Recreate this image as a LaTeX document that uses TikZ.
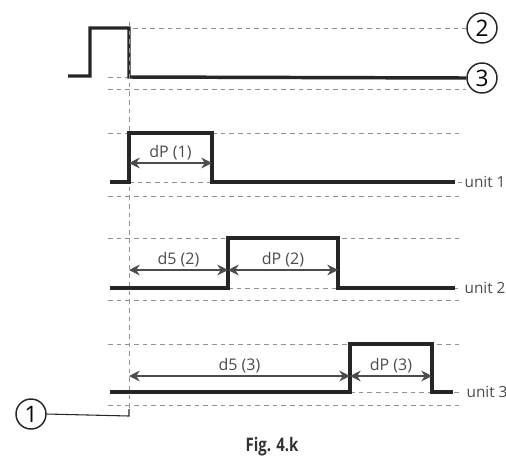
\documentclass[tikz,border=0pt]{standalone}
\usepackage{fontspec}
\setmainfont{Open Sans}
\newfontfamily\capfont[FakeStretch=0.8]{Open Sans}
\usetikzlibrary{positioning, arrows.meta}

\begin{document}
\begin{tikzpicture}[
        x=0.75pt, y=-0.75pt,
        signal/.style={line width=2.6pt, black!85},
        guide/.style={gray!85, line width=0.7pt, dash pattern=on 3.5pt off 3pt},
        dim/.style={{Stealth[length=8pt, width=8pt]}-{Stealth[length=8pt, width=8pt]}, gray!60!black, line width=1.2pt},
        dimlabel/.style={above, inner sep=1.5pt, text=gray!60!black, font=\fontsize{12}{13}\selectfont},
        marker/.style={circle, draw=black!85, line width=1.1pt, minimum size=22.5pt, inner sep=0pt, font=\fontsize{17}{17}\selectfont},
        unitlabel/.style={anchor=west, inner sep=1pt, text=gray!60!black, font=\fontsize{11.5}{12}\selectfont}
    ]
    \useasboundingbox (0,0) rectangle (506,465);

    % markers
    \node[marker] (c2) at (482,28) {2};
    \node[marker] (c3) at (482,78) {3};
    \node[marker] (c1) at (31,414) {1};

    % input signal
    \draw[guide] (133,28) -- (c2.west);
    \draw[guide] (108,77) -- (129,77);
    \draw[guide] (108,89) -- (466,89);
    \draw[signal] (68,76) -| (90,28) -| (129,77) -- (c3.west);

    % reference line
    \draw[guide] (129,22) -- (129,410);
    \draw[black!85, line width=0.8pt] (c1.east) -- (129,416) -- (129,409);

    % unit 1
    \draw[guide] (108,133) -- (462,133);
    \draw[guide] (129,182) -- (462,182);
    \draw[guide] (108,196) -- (462,196);
    \draw[signal] (110,182) -- (129,182) |- (212,133) |- (455,182);
    \node[unitlabel] (u1) at (463,182) {unit 1};
    \coordinate (p1a) at (129,163);
    \coordinate (p1b) at (212,163);
    \draw[dim] (p1a) -- node[dimlabel] {dP (1)} (p1b);

    % unit 2
    \draw[guide] (108,238) -- (462,238);
    \draw[guide] (228,288) -- (462,288);
    \draw[guide] (108,300) -- (462,300);
    \draw[signal] (110,288) -- (228,288) |- (338,238) |- (455,288);
    \node[unitlabel] (u2) at (463,288) {unit 2};
    \coordinate (d2a) at (129,270);
    \coordinate (d2b) at (228,270);
    \coordinate (p2b) at (338,270);
    \draw[dim] (d2a) -- node[dimlabel] {d5 (2)} (d2b);
    \draw[dim] (d2b) -- node[dimlabel] {dP (2)} (p2b);

    % unit 3
    \draw[guide] (108,344) -- (462,344);
    \draw[guide] (350,392) -- (462,392);
    \draw[guide] (108,405) -- (462,405);
    \draw[signal] (110,392) -- (350,392) |- (432,344) |- (453,392);
    \node[unitlabel] (u3) at (465,392) {unit 3};
    \coordinate (d3a) at (129,376);
    \coordinate (d3b) at (350,376);
    \coordinate (p3b) at (432,376);
    \draw[dim] (d3a) -- node[dimlabel] {d5 (3)} (d3b);
    \draw[dim] (d3b) -- node[dimlabel] {dP (3)} (p3b);

    \node[font=\capfont\bfseries\fontsize{14}{15}\selectfont, text=black!80] (cap) at (272,447) {Fig. 4.k};
\end{tikzpicture}
\end{document}
